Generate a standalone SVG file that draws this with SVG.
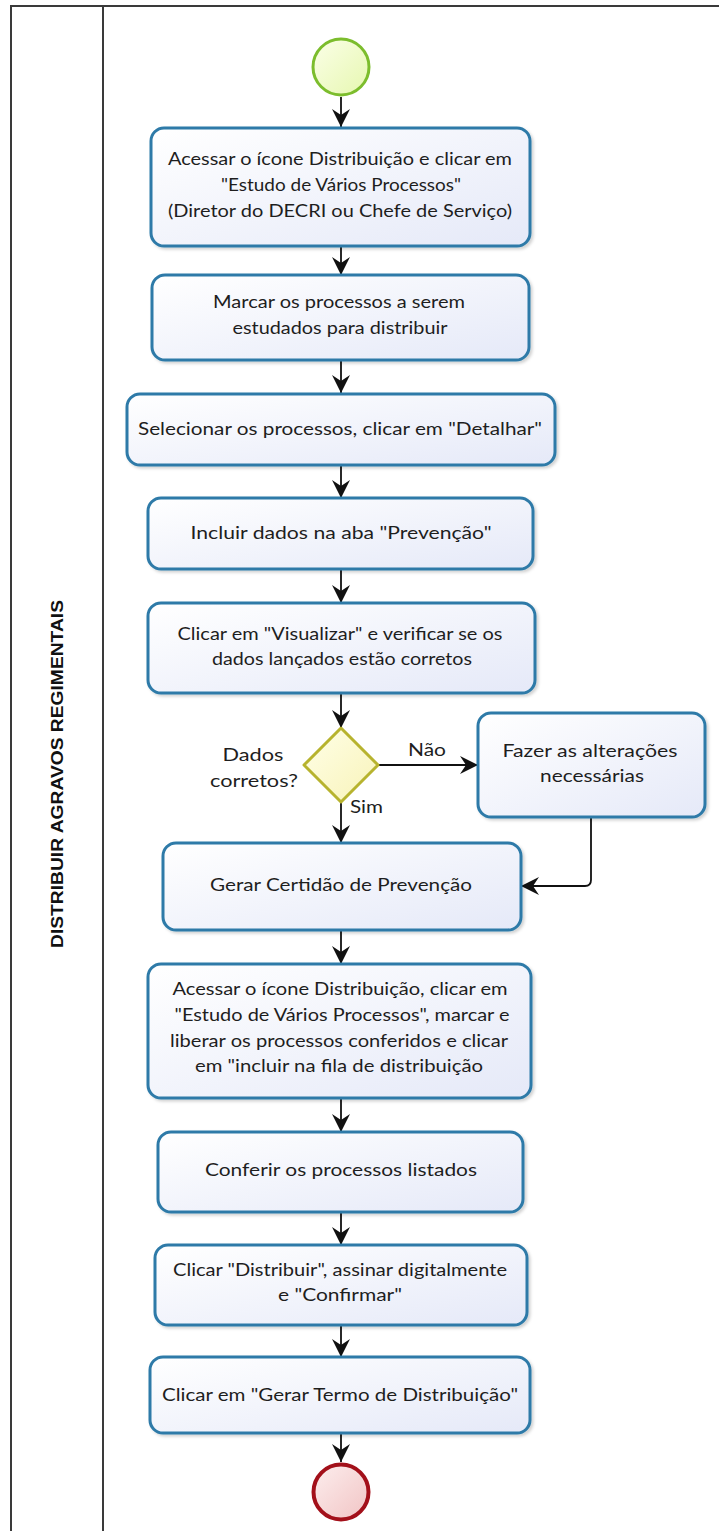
<svg xmlns="http://www.w3.org/2000/svg" width="719" height="1531" viewBox="0 0 719 1531">
<style>
.box{fill:url(#gBox);stroke:#2d7aa8;stroke-width:3;filter:url(#sh)}
.t{font-family:Lato,"Open Sans","Liberation Sans",sans-serif;font-size:18px;fill:#1e1e1e;text-anchor:middle}
.lbl{font-family:Lato,"Open Sans","Liberation Sans",sans-serif;font-size:18px;fill:#1e1e1e}
.c{fill:none;stroke:#111;stroke-width:1.8}
.lane{stroke:#3a3a3a;stroke-width:2;fill:none}
</style>
<defs>
<linearGradient id="gBox" x1="0" y1="0" x2="1" y2="1"><stop offset="0" stop-color="#ffffff"/><stop offset="1" stop-color="#e5e9f8"/></linearGradient>
<linearGradient id="gStart" x1="0" y1="0" x2="1" y2="1"><stop offset="0" stop-color="#fbffe8"/><stop offset="1" stop-color="#e6f7b0"/></linearGradient>
<linearGradient id="gEnd" x1="0" y1="0" x2="1" y2="1"><stop offset="0" stop-color="#fdeeee"/><stop offset="1" stop-color="#f1c4c4"/></linearGradient>
<linearGradient id="gDia" x1="0" y1="0" x2="1" y2="1"><stop offset="0" stop-color="#ffffe8"/><stop offset="1" stop-color="#f8f3b8"/></linearGradient>
<filter id="sh" x="-5%" y="-5%" width="115%" height="120%"><feDropShadow dx="2" dy="2" stdDeviation="1.5" flood-color="#000" flood-opacity="0.18"/></filter>
<marker id="ar" viewBox="0 0 18 18" markerWidth="18" markerHeight="18" refX="18" refY="9" orient="auto" markerUnits="userSpaceOnUse"><path d="M0,0 L18,9 L0,18 L6,9 z" fill="#111"/></marker>
</defs>

<g id="lane">
<path class="lane" d="M11,1531 V6 H719"/>
<path class="lane" d="M103,6 V1531"/>
<text transform="translate(63,774) rotate(-90)" font-family="'Liberation Sans',Arial,sans-serif" font-size="17" font-weight="bold" fill="#111" text-anchor="middle" textLength="348" lengthAdjust="spacingAndGlyphs">DISTRIBUIR AGRAVOS REGIMENTAIS</text>
</g>

<g id="connectors">
<path class="c" d="M341,97 V127" marker-end="url(#ar)"/>
<path class="c" d="M341,246 V275" marker-end="url(#ar)"/>
<path class="c" d="M341,360 V393" marker-end="url(#ar)"/>
<path class="c" d="M341,465 V498" marker-end="url(#ar)"/>
<path class="c" d="M341,569 V603" marker-end="url(#ar)"/>
<path class="c" d="M341,693 V728" marker-end="url(#ar)"/>
<path class="c" d="M378,765 H478" marker-end="url(#ar)"/>
<path class="c" d="M341,802 V843" marker-end="url(#ar)"/>
<path class="c" d="M591,817 V880 Q591,886 585,886 H521" marker-end="url(#ar)"/>
<path class="c" d="M341,930 V964" marker-end="url(#ar)"/>
<path class="c" d="M341,1098 V1132" marker-end="url(#ar)"/>
<path class="c" d="M341,1212 V1245" marker-end="url(#ar)"/>
<path class="c" d="M341,1325 V1357" marker-end="url(#ar)"/>
<path class="c" d="M341,1433 V1462" marker-end="url(#ar)"/>
<text class="lbl" x="408" y="756" textLength="38" lengthAdjust="spacingAndGlyphs">Não</text>
<text class="lbl" x="350" y="813" textLength="33" lengthAdjust="spacingAndGlyphs">Sim</text>
</g>

<g id="start"><circle cx="341" cy="67" r="28" fill="url(#gStart)" stroke="#7cbd2d" stroke-width="3"/></g>

<g id="n1">
<rect class="box" x="151" y="128" width="379" height="118" rx="13"/>
<text class="t" x="340" y="165" textLength="344" lengthAdjust="spacingAndGlyphs">Acessar o ícone Distribuição e clicar em</text>
<text class="t" x="341" y="191" textLength="240" lengthAdjust="spacingAndGlyphs">"Estudo de Vários Processos"</text>
<text class="t" x="340" y="217" textLength="344" lengthAdjust="spacingAndGlyphs">(Diretor do DECRI ou Chefe de Serviço)</text>
</g>

<g id="n2">
<rect class="box" x="152" y="275" width="377" height="85" rx="13"/>
<text class="t" x="339" y="308" textLength="252" lengthAdjust="spacingAndGlyphs">Marcar os processos a serem</text>
<text class="t" x="340" y="334" textLength="215" lengthAdjust="spacingAndGlyphs">estudados para distribuir</text>
</g>

<g id="n3">
<rect class="box" x="127" y="394" width="428" height="71" rx="13"/>
<text class="t" x="340" y="435" textLength="404" lengthAdjust="spacingAndGlyphs">Selecionar os processos, clicar em "Detalhar"</text>
</g>

<g id="n4">
<rect class="box" x="148" y="498" width="385" height="71" rx="13"/>
<text class="t" x="341" y="539" textLength="301" lengthAdjust="spacingAndGlyphs">Incluir dados na aba "Prevenção"</text>
</g>

<g id="n5">
<rect class="box" x="148" y="603" width="387" height="90" rx="13"/>
<text class="t" x="340" y="640" textLength="325" lengthAdjust="spacingAndGlyphs">Clicar em "Visualizar" e verificar se os</text>
<text class="t" x="342" y="665" textLength="260" lengthAdjust="spacingAndGlyphs">dados lançados estão corretos</text>
</g>

<g id="d1">
<path d="M341,728 L378,765 L341,802 L304,765 Z" fill="url(#gDia)" stroke="#b7b32e" stroke-width="3" stroke-linejoin="round"/>
<text class="t" x="253" y="761" textLength="61" lengthAdjust="spacingAndGlyphs">Dados</text>
<text class="t" x="254" y="787" textLength="88" lengthAdjust="spacingAndGlyphs">corretos?</text>
</g>

<g id="n6">
<rect class="box" x="478" y="713" width="227" height="104" rx="13"/>
<text class="t" x="590" y="757" textLength="175" lengthAdjust="spacingAndGlyphs">Fazer as alterações</text>
<text class="t" x="592" y="782" textLength="104" lengthAdjust="spacingAndGlyphs">necessárias</text>
</g>

<g id="n7">
<rect class="box" x="163" y="843" width="358" height="87" rx="13"/>
<text class="t" x="341" y="891" textLength="262" lengthAdjust="spacingAndGlyphs">Gerar Certidão de Prevenção</text>
</g>

<g id="n8">
<rect class="box" x="148" y="964" width="383" height="134" rx="13"/>
<text class="t" x="340" y="995" textLength="335" lengthAdjust="spacingAndGlyphs">Acessar o ícone Distribuição, clicar em</text>
<text class="t" x="342" y="1021" textLength="335" lengthAdjust="spacingAndGlyphs">"Estudo de Vários Processos", marcar e</text>
<text class="t" x="339" y="1047" textLength="338" lengthAdjust="spacingAndGlyphs">liberar os processos conferidos e clicar</text>
<text class="t" x="339" y="1072" textLength="288" lengthAdjust="spacingAndGlyphs">em "incluir na fila de distribuição</text>
</g>

<g id="n9">
<rect class="box" x="158" y="1132" width="365" height="80" rx="13"/>
<text class="t" x="341" y="1176" textLength="272" lengthAdjust="spacingAndGlyphs">Conferir os processos listados</text>
</g>

<g id="n10">
<rect class="box" x="155" y="1245" width="372" height="80" rx="13"/>
<text class="t" x="340" y="1276" textLength="334" lengthAdjust="spacingAndGlyphs">Clicar "Distribuir", assinar digitalmente</text>
<text class="t" x="340" y="1301" textLength="124" lengthAdjust="spacingAndGlyphs">e "Confirmar"</text>
</g>

<g id="n11">
<rect class="box" x="150" y="1357" width="380" height="76" rx="13"/>
<text class="t" x="340" y="1401" textLength="356" lengthAdjust="spacingAndGlyphs">Clicar em "Gerar Termo de Distribuição"</text>
</g>

<g id="end"><circle cx="341" cy="1492" r="27.5" fill="url(#gEnd)" stroke="#a3101a" stroke-width="4"/></g>
</svg>
